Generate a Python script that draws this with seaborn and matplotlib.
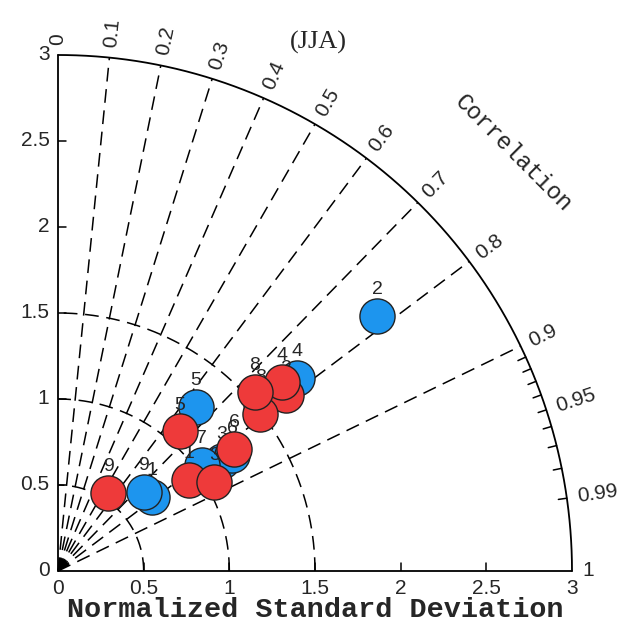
import numpy as np
import pandas as pd
import seaborn as sns
import matplotlib.pyplot as plt

# model numbers (labels above the markers)
model_ids = ["1", "2", "3", "4", "5", "6", "7", "8", "9"]

# normalized standard deviation and correlation, blue experiment
blue_std = [0.70, 2.38, 1.15, 1.79, 1.25, 1.22, 1.04, 1.53, 0.68]
blue_cor = [0.786, 0.783, 0.831, 0.780, 0.644, 0.834, 0.806, 0.774, 0.736]

# normalized standard deviation and correlation, red experiment
red_std = [0.93, 1.68, 1.05, 1.71, 1.08, 1.25, 1.49, 1.55, 0.54]
red_cor = [0.824, 0.792, 0.869, 0.765, 0.660, 0.824, 0.790, 0.740, 0.545]

# axis furniture
cor_ticks = [0.0, 0.1, 0.2, 0.3, 0.4, 0.5, 0.6, 0.7, 0.8, 0.9, 0.95, 0.99, 1.0]
cor_labels = ["0", "0.1", "0.2", "0.3", "0.4", "0.5", "0.6", "0.7", "0.8", "0.9", "0.95", "0.99", "1"]
cor_rays = [0.1, 0.2, 0.3, 0.4, 0.5, 0.6, 0.7, 0.8, 0.9]
cor_fine = [0.91, 0.92, 0.93, 0.94, 0.95, 0.96, 0.97, 0.98, 0.99]
std_ticks = [0.5, 1.0, 1.5, 2.0, 2.5]
std_labels = ["0.5", "1", "1.5", "2", "2.5"]
std_arcs = [0.5, 1.0, 1.5]
rmax = 3.0

blue_col = "#1d95ee"
red_col = "#ee3a3a"

sns.set_style("white")
plt.rcParams["font.family"] = ["Liberation Sans", "DejaVu Sans"]

df = pd.concat([
    pd.DataFrame({"model": model_ids, "std": blue_std, "cor": blue_cor, "run": "blue"}),
    pd.DataFrame({"model": model_ids, "std": red_std, "cor": red_cor, "run": "red"}),
], ignore_index=True)
df["x"] = df["std"] * df["cor"]
df["y"] = df["std"] * np.sqrt(1 - df["cor"] ** 2)

fig = plt.figure(figsize=(6.33, 6.23), dpi=100)
ax = fig.add_axes([58 / 633, 52 / 623, 514 / 633, 516 / 623])
ax.axis("off")

dash = (0, (9, 5))
th = np.linspace(0, np.pi / 2, 400)

# frame: two axes and outer arc
ax.plot(rmax * np.cos(th), rmax * np.sin(th), color="black", lw=1.3, clip_on=False)
ax.plot([0, 0], [0, rmax], color="black", lw=1.3, clip_on=False)
ax.plot([0, rmax], [0, 0], color="black", lw=1.3, clip_on=False)

# std dev arcs
for r in std_arcs:
    ax.plot(r * np.cos(th), r * np.sin(th), color="black", lw=1.1, linestyle=dash, clip_on=False)

# correlation rays
for c in cor_rays:
    a = np.arccos(c)
    ax.plot([0, rmax * np.cos(a)], [0, rmax * np.sin(a)], color="black", lw=1.1,
            linestyle=dash, clip_on=False)

# rays merge into a dark blob at the origin
wt = np.linspace(np.arccos(0.9), np.arccos(0.1), 50)
ax.fill(np.r_[0, 0.075 * np.cos(wt)], np.r_[0, 0.075 * np.sin(wt)], color="black", lw=0)

# small ticks on the outer arc
for c in cor_fine:
    a = np.arccos(c)
    ax.plot([rmax * np.cos(a), (rmax - 0.05) * np.cos(a)],
            [rmax * np.sin(a), (rmax - 0.05) * np.sin(a)], color="black", lw=1.1)

# correlation labels
for c, lab in zip(cor_ticks, cor_labels):
    a = np.arccos(c)
    ax.text(3.06 * np.cos(a), 3.06 * np.sin(a), lab, rotation=np.degrees(a),
            rotation_mode="anchor", ha="left", va="center", fontsize=15)

# std ticks on both axes
for v, lab in zip(std_ticks, std_labels):
    ax.plot([v, v], [0, 0.045], color="black", lw=1.1)
    ax.plot([0, 0.045], [v, v], color="black", lw=1.1)
    ax.text(v, -0.045, lab, ha="center", va="top", fontsize=15)
    ax.text(-0.05, v, lab, ha="right", va="center", fontsize=15)
ax.text(0, -0.045, "0", ha="center", va="top", fontsize=15)
ax.text(-0.05, 0, "0", ha="right", va="center", fontsize=15)
ax.text(-0.05, 3.0, "3", ha="right", va="center", fontsize=15)
ax.text(3.0, -0.045, "3", ha="center", va="top", fontsize=15)

# data points, blue run first then red on top; labels sit under the markers
for i, (run, col) in enumerate([("blue", blue_col), ("red", red_col)]):
    sub = df[df["run"] == run]
    for _, row in sub.iterrows():
        ax.annotate(row["model"], (row["x"], row["y"]), xytext=(0, 19),
                    textcoords="offset points", ha="center", va="center",
                    fontsize=14, zorder=3 + 2 * i)
    sns.scatterplot(data=sub, x="x", y="y", color=col, s=640, edgecolor="#222222",
                    linewidth=1.0, ax=ax, zorder=4 + 2 * i, legend=False, clip_on=False)

ax.set_xlim(0, rmax)
ax.set_ylim(0, rmax)
ax.set_xlabel("")
ax.set_ylabel("")

ax.text(1.5, -0.225, "Normalized Standard Deviation", ha="center", va="center",
        fontsize=20.5, fontweight="bold", family=["Liberation Mono", "DejaVu Sans Mono"])
ax.text(2.656, 2.43, "Correlation", ha="center", va="center", rotation=-45,
        fontsize=17, family=["Liberation Mono", "DejaVu Sans Mono"])
ax.text(1.52, 3.075, "(JJA)", ha="center", va="center", fontsize=19,
        family=["Liberation Serif", "DejaVu Serif"])

fig.savefig("out.png", dpi=100)
